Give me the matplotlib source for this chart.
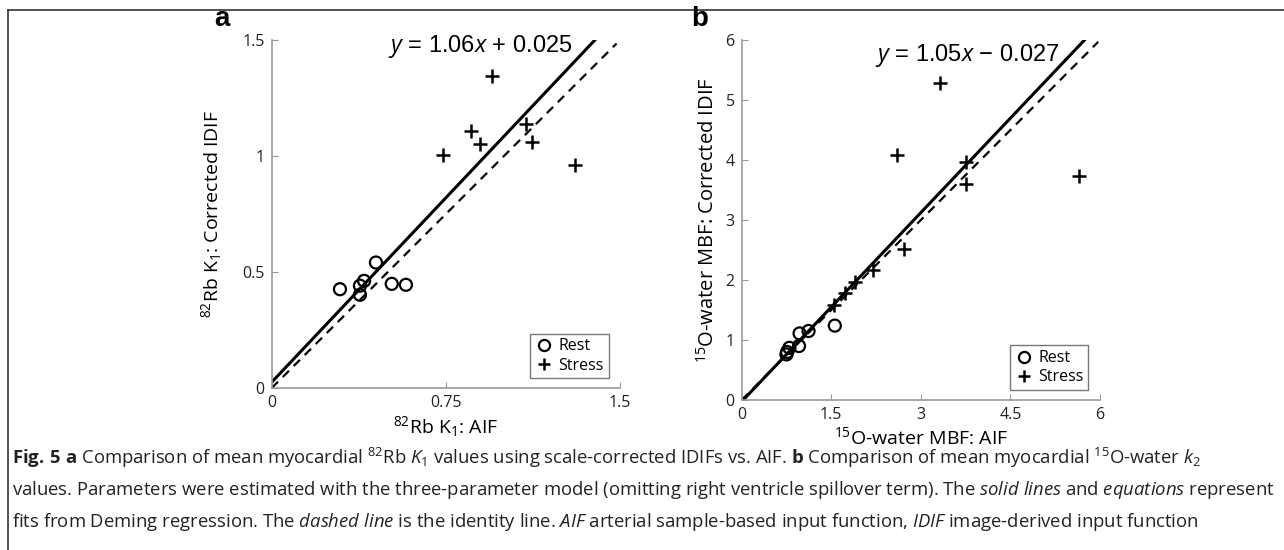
import numpy as np
import matplotlib
matplotlib.use('Agg')
import matplotlib.pyplot as plt
from matplotlib.lines import Line2D

plt.rcParams['font.family'] = ['Open Sans', 'DejaVu Sans']
plt.rcParams['mathtext.fontset'] = 'custom'
plt.rcParams['mathtext.rm'] = 'Open Sans'
plt.rcParams['mathtext.it'] = 'Open Sans:italic'
plt.rcParams['mathtext.bf'] = 'Open Sans:bold'

# panel a: 82Rb K1
rb_rest_x = [0.294, 0.380, 0.380, 0.398, 0.449, 0.517, 0.578]
rb_rest_y = [0.426, 0.402, 0.441, 0.462, 0.541, 0.449, 0.445]
rb_stress_x = [0.950, 0.858, 0.897, 0.736, 1.094, 1.122, 1.306]
rb_stress_y = [1.345, 1.108, 1.051, 1.005, 1.138, 1.062, 0.962]
rb_fit = (1.06, 0.025)
rb_xticks = [0, 0.75, 1.5]
rb_xlabels = ['0', '0.75', '1.5']
rb_yticks = [0, 0.5, 1, 1.5]
rb_ylabels = ['0', '0.5', '1', '1.5']

# panel b: 15O-water MBF
ow_rest_x = [0.75, 0.76, 0.80, 0.96, 0.97, 1.12, 1.56]
ow_rest_y = [0.76, 0.80, 0.87, 0.90, 1.11, 1.15, 1.24]
ow_stress_x = [3.32, 2.60, 3.75, 3.75, 5.64, 2.72, 2.20, 1.90, 1.73, 1.54]
ow_stress_y = [5.29, 4.08, 3.96, 3.60, 3.73, 2.51, 2.17, 1.97, 1.78, 1.58]
ow_fit = (1.05, -0.027)
ow_xticks = [0, 1.5, 3, 4.5, 6]
ow_xlabels = ['0', '1.5', '3', '4.5', '6']
ow_yticks = [0, 1, 2, 3, 4, 5, 6]
ow_ylabels = ['0', '1', '2', '3', '4', '5', '6']

fig = plt.figure(figsize=(12.84, 5.5), dpi=100)

grey = '#999999'


def panel(ax, rx, ry, sx, sy, fit, lim, ident_end, xt, xl, yt, yl, eq, eqpos):
    a, b = fit
    x_end = (lim - b) / a
    ax.plot([0, x_end], [b, a * x_end + b], color='black', lw=2.2, zorder=2)
    ax.plot([0, ident_end], [0, ident_end], color='black', lw=1.6, ls=(0, (4, 3)), zorder=2)
    ax.scatter(rx, ry, s=75, facecolors='none', edgecolors='black', linewidths=1.6, zorder=3)
    ax.scatter(sx, sy, s=90, marker='+', color='black', linewidths=1.8, zorder=3)
    ax.set_xlim(0, lim)
    ax.set_ylim(0, lim)
    ax.set_xticks(xt)
    ax.set_yticks(yt)
    ax.set_xticklabels(xl)
    ax.set_yticklabels(yl)
    for s in ['top', 'right']:
        ax.spines[s].set_visible(False)
    for s in ['left', 'bottom']:
        ax.spines[s].set_color(grey)
        ax.spines[s].set_linewidth(1.2)
    ax.tick_params(direction='in', length=4, color=grey, labelsize=11.5, pad=5, labelcolor='#222222')
    ax.text(eqpos[0], eqpos[1], eq, fontsize=17, ha='center', va='center',
            family=['Liberation Sans', 'DejaVu Sans'])
    handles = [Line2D([], [], marker='o', ls='none', mfc='none', mec='black', mew=1.6, ms=8, label='Rest'),
               Line2D([], [], marker='+', ls='none', color='black', mew=1.8, ms=9, label='Stress')]
    ax.legend(handles=handles, loc='lower right', bbox_to_anchor=(0.99, 0.005), fontsize=11.5,
              frameon=True, fancybox=False, edgecolor='#555555', handletextpad=0.3,
              borderpad=0.3, labelspacing=0.2, handlelength=1.2)


ax1 = fig.add_axes([0.2116, 0.2945, 0.2713, 0.6327])
panel(ax1, rb_rest_x, rb_rest_y, rb_stress_x, rb_stress_y, rb_fit, 1.5, 1.485,
      rb_xticks, rb_xlabels, rb_yticks, rb_ylabels,
      r'$\mathit{y}$ = 1.06$\mathit{x}$ + 0.025', (0.90, 1.47))
ax1.set_xlabel(r'$^{82}$Rb K$_1$: AIF', fontsize=14, labelpad=2)
ax1.set_ylabel(r'$^{82}$Rb K$_1$: Corrected IDIF', fontsize=14)
ax1.yaxis.set_label_coords(-0.136, 0.5)

ax2 = fig.add_axes([0.5776, 0.2727, 0.2791, 0.6545])
panel(ax2, ow_rest_x, ow_rest_y, ow_stress_x, ow_stress_y, ow_fit, 6, 5.97,
      ow_xticks, ow_xlabels, ow_yticks, ow_ylabels,
      r'$\mathit{y}$ = 1.05$\mathit{x}$ − 0.027', (3.77, 5.75))
ax2.set_xlabel(r'$^{15}$O-water MBF: AIF', fontsize=14, labelpad=2)
ax2.set_ylabel(r'$^{15}$O-water MBF: Corrected IDIF', fontsize=14.5)
ax2.yaxis.set_label_coords(-0.063, 0.5)

fig.text(222 / 1284, 1 - 19 / 550, 'a', fontsize=20, fontweight='bold', ha='center', va='center',
         family=['Liberation Sans', 'DejaVu Sans'])
fig.text(700 / 1284, 1 - 19 / 550, 'b', fontsize=20, fontweight='bold', ha='center', va='center',
         family=['Liberation Sans', 'DejaVu Sans'])

# frame lines
fig.add_artist(Line2D([8 / 1284, 1], [1 - 10 / 550, 1 - 10 / 550], color='#333333', lw=1.2))
fig.add_artist(Line2D([8 / 1284, 8 / 1284], [0, 1 - 10 / 550], color='#333333', lw=1.2))

cap1 = (r'$\mathbf{Fig.\,5\ a}$ Comparison of mean myocardial $^{82}$Rb $\mathit{K}_1$ values using '
        r'scale-corrected IDIFs vs. AIF. $\mathbf{b}$ Comparison of mean myocardial $^{15}$O-water $\mathit{k}_2$')
cap2 = (r'values. Parameters were estimated with the three-parameter model (omitting right ventricle '
        r'spillover term). The $\mathit{solid\ lines}$ and $\mathit{equations}$ represent')
cap3 = (r'fits from Deming regression. The $\mathit{dashed\ line}$ is the identity line. $\mathit{AIF}$ '
        r'arterial sample-based input function, $\mathit{IDIF}$ image-derived input function')
for i, c in enumerate([cap1, cap2, cap3]):
    fig.text(12 / 1284, 1 - (458 + 32 * i) / 550, c, fontsize=13.3, ha='left', va='center', color='#222222')

fig.savefig('out.png', dpi=100)
